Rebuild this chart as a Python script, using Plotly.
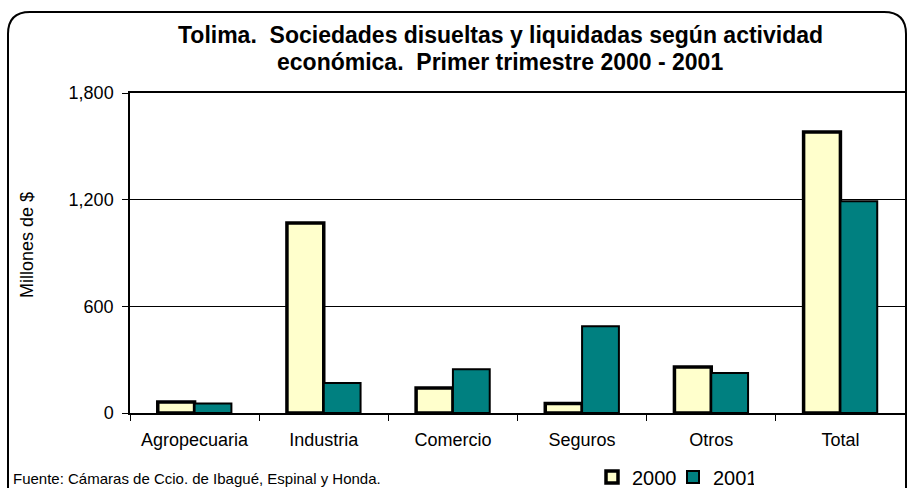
import plotly.graph_objects as go

actividades = ['Agropecuaria', 'Industria', 'Comercio', 'Seguros', 'Otros', 'Total']
valores_2000 = [62, 1069, 141, 53, 259, 1581]
valores_2001 = [53, 169, 246, 488, 225, 1191]
y_ticks = [0, 600, 1200, 1800]

W, H = 909, 488
L, R, T, B = 130, 4, 93, 75
pw, ph = W - L - R, H - T - B

def px(x):
    return (x - L) / pw

def py(y):
    return (H - B - y) / ph

fig = go.Figure([
    go.Bar(
        name='2000',
        x=actividades,
        y=valores_2000,
        marker=dict(color='#FFFFCC', line=dict(color='black', width=3.5)),
    ),
    go.Bar(
        name='2001',
        x=actividades,
        y=valores_2001,
        marker=dict(color='#008080', line=dict(color='black', width=2)),
    ),
])

fig.update_layout(
    width=W, height=H,
    margin=dict(l=L, r=R, t=T, b=B, autoexpand=False),
    paper_bgcolor='white',
    plot_bgcolor='white',
    font=dict(family='Liberation Sans, Arial, sans-serif', size=18, color='black'),
    barmode='group',
    bargap=0.43,
    bargroupgap=0,
    showlegend=True,
    legend=dict(
        orientation='h',
        x=px(592), y=py(477), xanchor='left', yanchor='middle',
        font=dict(size=20),
        entrywidth=36, entrywidthmode='pixels',
        traceorder='normal',
        bgcolor='rgba(0,0,0,0)',
    ),
)

fig.update_yaxes(
    range=[0, 1800],
    tickvals=y_ticks,
    tickformat=',',
    showgrid=True, gridcolor='black', gridwidth=1,
    showline=True, linecolor='black', linewidth=1.5,
    ticks='outside', ticklen=6, tickcolor='black',
    ticklabelstandoff=5,
    zeroline=False,
)
fig.update_xaxes(
    showline=True, linecolor='black', linewidth=1.5, mirror=True,
    ticks='outside', ticklen=6, tickcolor='black',
    tickson='boundaries',
    ticklabelstandoff=10,
    showgrid=False,
)

# titulo en dos lineas
for texto, yy in [('<b>Tolima.  Sociedades disueltas y liquidadas según actividad</b>', 35),
                  ('<b>económica.  Primer trimestre 2000 - 2001</b>', 62)]:
    fig.add_annotation(
        text=texto,
        xref='paper', yref='paper', x=px(500), y=py(yy),
        xanchor='center', yanchor='middle', showarrow=False,
        font=dict(size=23),
    )
fig.add_annotation(
    text='Millones de $',
    xref='paper', yref='paper', x=px(27), y=py(245),
    xanchor='center', yanchor='middle', showarrow=False,
    textangle=-90, font=dict(size=18),
)
fig.add_annotation(
    text='Fuente: Cámaras de Ccio. de Ibagué, Espinal y Honda.',
    xref='paper', yref='paper', x=px(11), y=py(478),
    xanchor='left', yanchor='middle', showarrow=False,
    font=dict(size=15),
)

# marco redondeado
x0, x1, y0, y1, r = 8, 906, 12, 500, 22
path = (f'M {px(x0)},{py(y1)} L {px(x0)},{py(y0 + r)} '
        f'Q {px(x0)},{py(y0)} {px(x0 + r)},{py(y0)} '
        f'L {px(x1 - r)},{py(y0)} Q {px(x1)},{py(y0)} {px(x1)},{py(y0 + r)} '
        f'L {px(x1)},{py(y1)}')
fig.add_shape(type='path', path=path, xref='paper', yref='paper',
              line=dict(color='black', width=2))

# sin margen del body para que la figura ocupe toda la ventana
fig.write_html('out.html', config={'displayModeBar': False},
               post_script="document.body.style.margin='0';document.body.style.overflow='hidden';")
